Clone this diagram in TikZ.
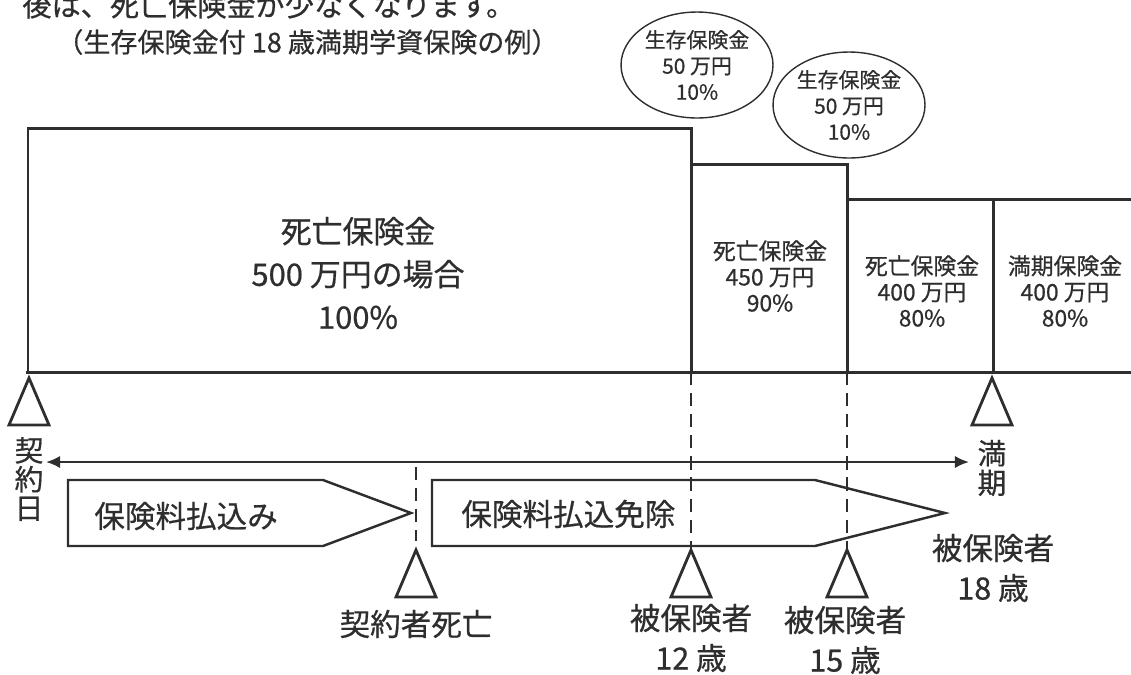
\documentclass[tikz,border=0pt]{standalone}
\usepackage{fontspec}
\setmainfont{Noto Sans CJK JP}[FakeBold=0.6]
\usetikzlibrary{arrows.meta,shapes.geometric}
\definecolor{ink}{HTML}{2E2E2E}
\tikzset{
  outline/.style={draw=ink, line width=1.7pt},
  guide/.style={draw=ink, line width=1.4pt, dash pattern=on 7.5pt off 4.5pt},
  tri/.style={draw=ink, line width=1.6pt, line join=miter},
  txt/.style={text=ink, inner sep=0pt, align=center},
  big/.style={txt, font=\fontsize{17.6}{24.4}\selectfont},
  mid/.style={txt, font=\fontsize{13}{14.8}\selectfont},
  low/.style={txt, font=\fontsize{17.4}{22.7}\selectfont},
}
\def\marker(#1,#2){\draw[tri] (#1,#2) -- ++(-20,47) -- ++(40,0) -- cycle;}

\begin{document}
\begin{tikzpicture}[x=0.02cm, y=-0.02cm]
  \useasboundingbox (0,0) rectangle (1131,674);
  \clip (0,0) rectangle (1131,674);
  %%%%% START %%%%%
  \node[txt, anchor=west, font=\fontsize{16.6}{18}\selectfont] (note) at (22,5) {後は、死亡保険金が少なくなります。};
  \node[txt, anchor=west, font=\fontsize{15.4}{17}\selectfont] (title) at (56,42) {（生存保険金付 18 歳満期学資保険の例）};

  % benefit steps
  \draw[outline] (28,372) -- (28,128) -- (691,128) -- (691,164) -- (847,164) -- (847,199) -- (1140,199);
  \draw[outline] (26,372) -- (1140,372);
  \draw[outline] (691,164) -- (691,372);
  \draw[outline] (847,199) -- (847,372);
  \draw[outline] (993,199) -- (993,372);

  \node[big] (death500) at (358,273) {死亡保険金\\500 万円の場合\\100\%};
  \node[mid] (death450) at (770,276) {死亡保険金\\450 万円\\90\%};
  \node[mid] (death400) at (922,291) {死亡保険金\\400 万円\\80\%};
  \node[mid] (mature400) at (1065,291) {満期保険金\\400 万円\\80\%};

  \node[txt, ellipse, draw=ink, line width=0.8pt, minimum width=3.04cm, minimum height=2.12cm,
        font=\fontsize{11.9}{14.8}\selectfont] (surv1) at (697,65) {生存保険金\\50 万円\\10\%};
  \node[txt, ellipse, draw=ink, line width=0.8pt, minimum width=3.04cm, minimum height=2.12cm,
        font=\fontsize{11.9}{14.8}\selectfont] (surv2) at (849,105) {生存保険金\\50 万円\\10\%};

  % guides
  \draw[guide] (691,372) -- (691,549);
  \draw[guide] (847,372) -- (847,549);
  \draw[guide] (416,467) -- (416,541);

  % markers
  \foreach \mx/\my in {29/378, 416/550, 691/550, 847/550, 992/378}
    {\marker(\mx,\my)}

  % period
  \node[txt, font=\fontsize{16.4}{16.4}\selectfont] (start) at (29,479) {契\\約\\日};
  \node[txt, font=\fontsize{16.4}{16.8}\selectfont] (maturity) at (992,468) {満\\期};
  \coordinate (p0) at (46,462);
  \coordinate (p1) at (969,462);
  \draw[outline, line width=1.3pt, {Latex[length=8pt,width=7pt]}-{Latex[length=8pt,width=7pt]}] (p0) -- (p1);

  % premium arrows
  \draw[outline, line width=1.4pt] (68,480) -- (323,480) -- (411,513) -- (323,546) -- (68,546) -- cycle;
  \draw[outline, line width=1.4pt] (432,480) -- (815,480) -- (945,513) -- (815,546) -- (432,546) -- cycle;
  \node[low, anchor=west] (paying) at (94,516) {保険料払込み};
  \node[low, anchor=west] (waived) at (461,514) {保険料払込免除};

  \node[low] (death) at (416,624) {契約者死亡};
  \node[low] (age12) at (691,638) {被保険者\\12 歳};
  \node[low] (age15) at (845,640) {被保険者\\15 歳};
  \node[low] (age18) at (993,568) {被保険者\\18 歳};
  %%%%% END %%%%%
\end{tikzpicture}
\end{document}
